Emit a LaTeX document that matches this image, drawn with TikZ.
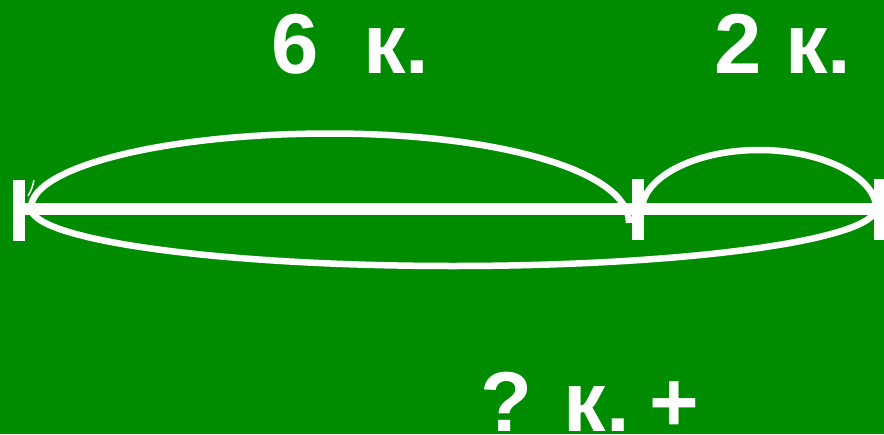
\documentclass[tikz,border=0pt]{standalone}
\usepackage{fontspec}
\setmainfont{Liberation Sans}
\definecolor{bgreen}{RGB}{0,140,0}
\begin{document}
\begin{tikzpicture}[x=1pt,y=-1pt,
  tick/.style={draw=none,fill=white,rectangle,inner sep=0pt,minimum width=12pt,minimum height=61pt},
  arcline/.style={draw=white,line width=6.5pt},
  label/.style={text=white,inner sep=0pt,anchor=base west,font=\fontsize{85}{90}\selectfont\bfseries}]
\useasboundingbox (0,0) rectangle (884,434);
\fill[bgreen] (0,0) rectangle (884,434);
% ticks
\node[tick] (A) at (19,210) {};
\node[tick] (B) at (638,209.5) {};
\node[tick] (C) at (880,209) {};
% base line
\draw[white,line width=12pt] (A.east |- 0,209) -- (C.west |- 0,209);
% arcs
\coordinate (p0) at (31,208);
\coordinate (p1) at (629,223);
\coordinate (q0) at (642,210);
\coordinate (q1) at (876,208);
\draw[arcline] (p0) .. controls (31,167) and (165,133.5) .. (330,133.5)
  .. controls (495,133.5) and (629,170) .. (p1);
\draw[arcline] (q0) .. controls (642,178) and (694,150) .. (759,150)
  .. controls (824,150) and (876,178) .. (q1);
\draw[arcline] (p0) .. controls (31,240) and (220,266) .. (453,266)
  .. controls (686,266) and (876,240) .. (q1);
% small curl
\draw[white,line width=1.5pt] (28,196) .. controls (31,191) and (33,186) .. (34,180);
% labels
\node[label] (t6) at (271,73) {6};
\node[label] (tk) at (363,73) {к.};
\node[label] (t2) at (714,73) {2 к.};
\node[label] (tq) at (480,431) {? к.};
\node[label] (tp) at (649,431) {+};
\end{tikzpicture}
\end{document}
